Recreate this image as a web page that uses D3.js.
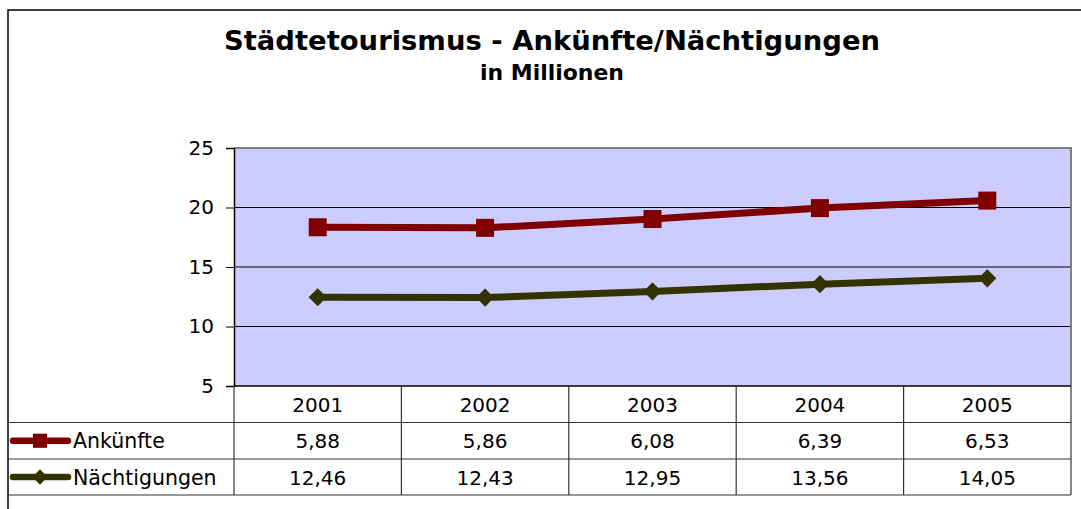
<!DOCTYPE html>
<html><head><meta charset="utf-8">
<script src="https://cdn.jsdelivr.net/npm/d3@7/dist/d3.min.js"></script>
<style>html,body{margin:0;padding:0;background:#fff;}svg{display:block;}</style>
</head><body>
<svg id="chart" width="1081" height="509"></svg>
<script>
const years = ["2001","2002","2003","2004","2005"];
const ankuenfte = [5.88, 5.86, 6.08, 6.39, 6.53];
const naechtigungen = [12.46, 12.43, 12.95, 13.56, 14.05];
const yTicks = [5, 10, 15, 20, 25];
const seriesNames = ["Nächtigungen", "Ankünfte"];
const labelsAnk = ["5,88","5,86","6,08","6,39","6,53"];
const labelsNae = ["12,46","12,43","12,95","13,56","14,05"];

(function () {
const svg = d3.select("#chart");
const font = "'DejaVu Sans', Verdana, sans-serif";
const pL = 234, pR = 1071, pT = 148, pB = 386;

// outer frame
svg.append("rect").attr("x", 8).attr("y", 10).attr("width", 1100).attr("height", 600)
  .attr("fill", "#fff").attr("stroke", "#000").attr("stroke-width", 1.5);

// titles
svg.append("text").attr("x", 552).attr("y", 50).attr("text-anchor", "middle")
  .attr("font-family", font).attr("font-weight", "bold").attr("font-size", 26.5)
  .attr("textLength", 656).attr("lengthAdjust", "spacingAndGlyphs")
  .text("Städtetourismus - Ankünfte/Nächtigungen");
svg.append("text").attr("x", 552).attr("y", 80).attr("text-anchor", "middle")
  .attr("font-family", font).attr("font-weight", "bold").attr("font-size", 20.5)
  .attr("textLength", 144).attr("lengthAdjust", "spacingAndGlyphs")
  .text("in Millionen");

const x = d3.scaleBand().domain(years).range([pL, pR]);
const y = d3.scaleLinear().domain([5, 25]).range([pB, pT]);

// plot area
svg.append("rect").attr("x", pL).attr("y", pT).attr("width", pR - pL).attr("height", pB - pT)
  .attr("fill", "#ccccff");
// gridlines
svg.append("g").selectAll("line").data(yTicks.filter(t => t > 5 && t < 25)).join("line")
  .attr("x1", pL).attr("x2", pR).attr("y1", d => y(d)).attr("y2", d => y(d))
  .attr("stroke", "#000").attr("stroke-width", 1);
// gray top/right border
svg.append("path").attr("d", `M${pL},${y(25)}H${pR}V${pB}`)
  .attr("fill", "none").attr("stroke", "#808080").attr("stroke-width", 2);

// y axis
const yAxis = svg.append("g").attr("transform", `translate(${pL},0)`)
  .call(d3.axisLeft(y).tickValues(yTicks).tickSize(8).tickPadding(12).tickFormat(d3.format("d")));
yAxis.select(".domain").attr("stroke", "#000").attr("stroke-width", 1.5);
yAxis.selectAll(".tick line").attr("stroke", "#000");
yAxis.selectAll("text").attr("font-family", font).attr("font-size", 20).attr("fill", "#000");

// stacked data
const rows = years.map((yr, i) => ({year: yr, "Nächtigungen": naechtigungen[i], "Ankünfte": ankuenfte[i]}));
const stacked = d3.stack().keys(seriesNames)(rows);
const colors = {"Nächtigungen": "#333300", "Ankünfte": "#800000"};

const line = d3.line().x(d => x(d.data.year) + x.bandwidth() / 2).y(d => y(d[1]));
stacked.forEach(s => {
  svg.append("path").datum(s).attr("d", line).attr("fill", "none")
    .attr("stroke", colors[s.key]).attr("stroke-width", 7).attr("stroke-linejoin", "round");
});
const sym = {"Nächtigungen": d3.symbol(d3.symbolDiamond2, 210), "Ankünfte": d3.symbol(d3.symbolSquare, 324)};
stacked.forEach(s => {
  svg.append("g").selectAll("path").data(s).join("path")
    .attr("transform", d => `translate(${x(d.data.year) + x.bandwidth() / 2},${y(d[1])})`)
    .attr("d", sym[s.key]).attr("fill", colors[s.key]);
});

// data table
const rowY = [386, 422.5, 459, 495];
const tg = svg.append("g").attr("stroke", "#333").attr("stroke-width", 1.2);
tg.append("line").attr("x1", pL).attr("x2", pR).attr("y1", pB).attr("y2", pB).attr("stroke", "#000").attr("stroke-width", 1.5);
[rowY[1], rowY[2], rowY[3]].forEach(yy => tg.append("line").attr("x1", 8).attr("x2", pR).attr("y1", yy).attr("y2", yy));
years.forEach(yr => tg.append("line").attr("x1", x(yr)).attr("x2", x(yr)).attr("y1", rowY[0]).attr("y2", rowY[3]));
tg.append("line").attr("x1", pR).attr("x2", pR).attr("y1", rowY[0]).attr("y2", rowY[3]);

const tableRows = [years, labelsAnk, labelsNae];
tableRows.forEach((vals, r) => {
  svg.append("g").selectAll("text").data(vals).join("text")
    .attr("x", (d, i) => x(years[i]) + x.bandwidth() / 2)
    .attr("y", (rowY[r] + rowY[r + 1]) / 2 + 7.5)
    .attr("text-anchor", "middle").attr("font-family", font).attr("font-size", 20).attr("fill", "#000")
    .text(d => d);
});

// legend keys
const legend = [{key: "Ankünfte", r: 1}, {key: "Nächtigungen", r: 2}];
legend.forEach(l => {
  const cy = (rowY[l.r] + rowY[l.r + 1]) / 2;
  svg.append("line").attr("x1", 13).attr("x2", 68).attr("y1", cy).attr("y2", cy)
    .attr("stroke", colors[l.key]).attr("stroke-width", 6.5).attr("stroke-linecap", "round");
  svg.append("path").attr("transform", `translate(40,${cy})`)
    .attr("d", l.key === "Ankünfte" ? d3.symbol(d3.symbolSquare, 200)() : d3.symbol(d3.symbolDiamond2, 150)())
    .attr("fill", colors[l.key]);
  svg.append("text").attr("x", 73).attr("y", cy + 7.5).attr("font-family", font).attr("font-size", 20.5)
    .attr("fill", "#000").text(l.key);
});
})();
</script>
</body></html>
